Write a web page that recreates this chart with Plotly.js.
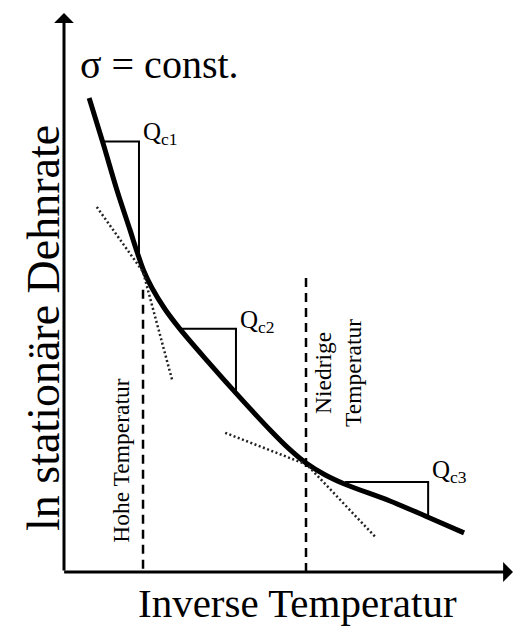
<!DOCTYPE html>
<html>
<head>
<meta charset="utf-8">
<script src="https://cdn.plot.ly/plotly-3.0.1.min.js"></script>
<style>html,body{margin:0;padding:0;background:#fff;}#chart{width:513px;height:626px;}</style>
</head>
<body>
<div id="chart"></div>
<script>
// Main creep curve: ln strain rate vs inverse temperature (arbitrary units)
const curveX = [0.56, 0.87, 1.18, 1.47, 1.63, 1.78, 1.96, 2.25, 2.58, 3.21, 3.83, 4.59, 4.99, 5.39, 5.81, 6.26, 7.26, 8.11, 8.91];
const curveY = [8.48, 7.67, 6.83, 6.12, 5.72, 5.38, 5.08, 4.70, 4.35, 3.76, 3.20, 2.54, 2.22, 1.95, 1.74, 1.57, 1.27, 0.98, 0.70];

// Dotted tangent lines at the two transition points
const tangent1X = [0.73, 1.76, 2.41];
const tangent1Y = [6.53, 5.37, 3.43];
const tangent2X = [3.59, 5.41, 6.93];
const tangent2Y = [2.49, 1.92, 0.63];

// Dashed transition markers
const markerX = [1.76, 5.39];
const markerTop = [5.05, 5.26];

// Slope triangles (left x, right x, top y, bottom y)
const triLeft = [0.87, 2.58, 6.26];
const triRight = [1.67, 3.83, 8.11];
const triTop = [7.70, 4.35, 1.61];
const triBottom = [5.62, 3.20, 0.98];
const triLabels = ['Q<sub>c1</sub>', 'Q<sub>c2</sub>', 'Q<sub>c3</sub>'];
const triLabelY = [7.84, 4.49, 1.79];

const regionLabels = ['Hohe Temperatur', 'Niedrige<br>Temperatur'];
const regionLabelX = [1.27, 6.10];
const regionLabelY = [1.99, 3.56];

const stressLabel = 'σ = const.';
const xTitle = 'Inverse Temperatur';
const yTitle = 'ln stationäre Dehnrate';

const FONT = '"Liberation Serif", serif';
const traces = [];

traces.push({x: curveX, y: curveY, mode: 'lines', line: {color: '#000', width: 5, shape: 'spline', smoothing: 1}, hoverinfo: 'skip'});
traces.push({x: tangent1X, y: tangent1Y, mode: 'lines', line: {color: '#222', width: 2.5, dash: '2px,2.5px'}, hoverinfo: 'skip'});
traces.push({x: tangent2X, y: tangent2Y, mode: 'lines', line: {color: '#222', width: 2.5, dash: '2px,2.5px'}, hoverinfo: 'skip'});
for (let i = 0; i < markerX.length; i++) {
  traces.push({x: [markerX[i], markerX[i]], y: [markerTop[i], 0], mode: 'lines', line: {color: '#000', width: 2.5, dash: '9px,6px'}, hoverinfo: 'skip'});
}
for (let i = 0; i < triLeft.length; i++) {
  traces.push({x: [triLeft[i], triRight[i], triRight[i]], y: [triTop[i], triTop[i], triBottom[i]], mode: 'lines', line: {color: '#000', width: 2}, hoverinfo: 'skip'});
}

const annotations = [];
// axes with arrowheads
annotations.push({x: 0, y: 10, ax: 0, ay: 0, xref: 'x', yref: 'y', axref: 'x', ayref: 'y', text: '', showarrow: true, arrowhead: 1, arrowsize: 1.1, arrowwidth: 3, arrowcolor: '#000', standoff: 0, startstandoff: 0});
annotations.push({x: 10, y: 0, ax: -0.03, ay: 0, xref: 'x', yref: 'y', axref: 'x', ayref: 'y', text: '', showarrow: true, arrowhead: 1, arrowsize: 1.1, arrowwidth: 3, arrowcolor: '#000', standoff: 0, startstandoff: 0});
for (let i = 0; i < triLabels.length; i++) {
  annotations.push({x: triRight[i], y: triLabelY[i], xref: 'x', yref: 'y', text: triLabels[i], showarrow: false, xanchor: 'left', yanchor: 'middle', xshift: 2, font: {family: FONT, size: 25, color: '#000'}});
}
for (let i = 0; i < regionLabels.length; i++) {
  annotations.push({x: regionLabelX[i], y: regionLabelY[i], xref: 'x', yref: 'y', text: regionLabels[i], showarrow: false, textangle: -90, xanchor: 'center', yanchor: 'middle', font: {family: FONT, size: 23.5, color: '#000'}});
}
annotations.push({x: 0.31, y: 9.07, xref: 'x', yref: 'y', text: stressLabel, showarrow: false, xanchor: 'left', yanchor: 'middle', font: {family: FONT, size: 40, color: '#000'}});
annotations.push({x: 0.519, y: -0.055, xref: 'paper', yref: 'paper', text: xTitle, showarrow: false, xanchor: 'center', yanchor: 'middle', font: {family: FONT, size: 41, color: '#000'}});
annotations.push({x: -0.0445, y: 0.4365, xref: 'paper', yref: 'paper', text: yTitle, showarrow: false, textangle: -90, xanchor: 'center', yanchor: 'middle', font: {family: FONT, size: 46, color: '#000'}});

const axisBase = {range: [0, 10], showgrid: false, zeroline: false, showline: false, showticklabels: false, ticks: '', fixedrange: true};
const layout = {
  width: 513, height: 626,
  margin: {l: 64, r: 0, t: 13, b: 54},
  paper_bgcolor: '#fff', plot_bgcolor: '#fff',
  showlegend: false,
  xaxis: Object.assign({}, axisBase),
  yaxis: Object.assign({}, axisBase),
  annotations: annotations,
  font: {family: FONT, color: '#000'}
};
Plotly.newPlot('chart', traces, layout, {displayModeBar: false, staticPlot: true});
</script>
</body>
</html>
